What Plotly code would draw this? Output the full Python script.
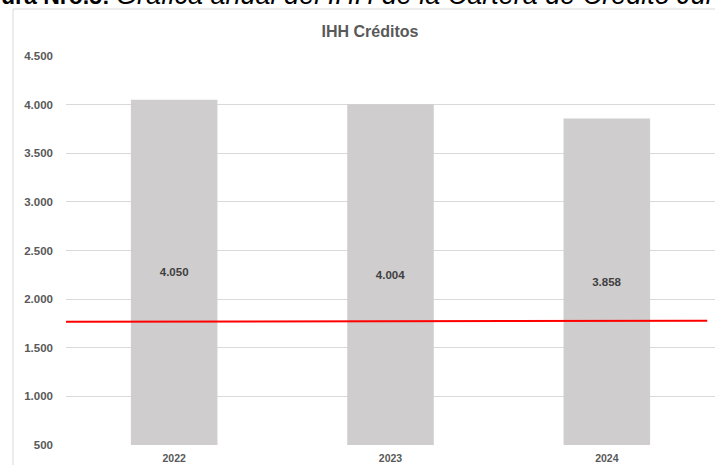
import plotly.graph_objects as go

# Data
years = ["2022", "2023", "2024"]
ihh = [4050, 4004, 3858]
y_min, y_max = 500, 4500
y_ticks = [500, 1000, 1500, 2000, 2500, 3000, 3500, 4000, 4500]
ref_x = [0.0, 0.988]       # fraction of plot width
ref_y = [1767, 1777]       # reference line (IHH threshold)

title_text = "IHH Créditos"
caption_bold = "ura Nro.5:"
caption_italic = "Gráfica anual del IHH de la Cartera de Crédito Jul"

FONT = "Liberation Sans, Arial, sans-serif"
GRAY = "#595959"

labels = [f"{v:,}".replace(",", ".") for v in ihh]

fig = go.Figure()
fig.add_trace(go.Bar(
    x=years,
    y=[v - y_min for v in ihh],
    base=y_min,
    width=0.4,
    marker=dict(color="#cfcdce", line=dict(width=0)),
    text=labels,
    textposition="inside",
    insidetextanchor="middle",
    textangle=0,
    textfont=dict(family=FONT, size=11.5, color="#404040", weight="bold"),
    showlegend=False,
    hoverinfo="skip",
))
fig.add_trace(go.Scatter(
    x=ref_x, y=ref_y, xaxis="x2", mode="lines",
    line=dict(color="#ff0000", width=2),
    showlegend=False, hoverinfo="skip",
))

caption_html = ("<b>" + caption_bold + "</b> "
                "<span style='font-size:27px'><i>" + caption_italic + "</i></span>")

fig.update_layout(
    width=715, height=465,
    margin=dict(l=66, r=0, t=56, b=20, autoexpand=False),
    paper_bgcolor="white", plot_bgcolor="white",
    separators=",.",
    title=dict(text="<b>" + title_text + "</b>", x=0.5175, xanchor="center",
               y=1 - 31 / 465, yanchor="middle",
               font=dict(family=FONT, size=16, color=GRAY)),
    xaxis=dict(
        type="category", showgrid=False, zeroline=False, showline=False,
        ticks="", tickfont=dict(family=FONT, size=10.5, color=GRAY, weight="bold"),
        ticklabelstandoff=5,
    ),
    xaxis2=dict(overlaying="x", range=[0, 1], visible=False),
    yaxis=dict(
        range=[y_min, y_max], tickvals=y_ticks, tickformat=",d",
        showgrid=True, gridcolor="#d9d9d9", gridwidth=1,
        zeroline=False, showline=False, ticks="",
        tickfont=dict(family=FONT, size=11.5, color=GRAY, weight="bold"),
        ticklabelstandoff=12,
    ),
    shapes=[dict(
        type="rect", xref="paper", yref="paper",
        x0=(13 - 66) / 649, x1=1.2, y0=-0.3, y1=(445 - 9) / 389,
        line=dict(color="#d9d9d9", width=1), fillcolor="rgba(0,0,0,0)",
        layer="below",
    )],
    annotations=[dict(
        text=caption_html, xref="paper", yref="paper",
        x=(-1 - 66) / 649, y=(445 + 5) / 389, xanchor="left", yanchor="middle",
        showarrow=False, font=dict(family=FONT, size=23, color="black"),
    )],
)

fig.write_html("out.html", config={"displayModeBar": False},
               post_script="document.body.style.margin='0px';document.body.style.overflow='hidden';")
